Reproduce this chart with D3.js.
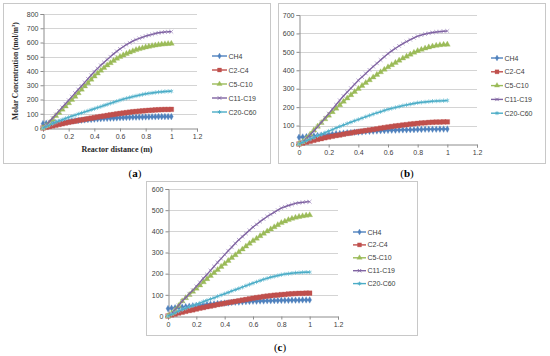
<!DOCTYPE html>
<html><head><meta charset="utf-8">
<script src="https://cdn.jsdelivr.net/npm/d3@7"></script>
<style>body{margin:0;background:#fff}svg{display:block}</style>
</head><body>
<svg id="chart" width="550" height="356"></svg>
<script>
// ---------- DATA ----------
const distance = [0,0.025,0.05,0.075,0.1,0.125,0.15,0.175,0.2,0.225,0.25,0.275,0.3,0.325,0.35,0.375,0.4,0.425,0.45,0.475,0.5,0.525,0.55,0.575,0.6,0.625,0.65,0.675,0.7,0.725,0.75,0.775,0.8,0.825,0.85,0.875,0.9,0.925,0.95,0.975,1];
const seriesNames = ["CH4","C2-C4","C5-C10","C11-C19","C20-C60"];
const xTickValues = [0,0.2,0.4,0.6,0.8,1,1.2];
const yTicksA = [0,100,200,300,400,500,600,700,800];
const yTicksB = [0,100,200,300,400,500,600,700];
const yTicksC = [0,100,200,300,400,500,600];
const panelLabels = ["a","b","c"];

// panel (a)
const aCH4   = [30,32,34,36,38,40,43,45,47,49,51,53,55,57,59,60,62,64,65,67,68,69,70,71,72,73,74,75,76,76,77,77,78,78,79,79,80,80,80,80,80];
const aC2C4  = [0,5,10,15,20,25,30,35,40,44,48,53,57,61,65,69,73,77,81,84,88,92,95,99,102,105,108,111,114,116,118,120,122,124,125,127,128,129,130,130,131];
const aC5C10 = [0,15,35,60,85,107,130,152,175,198,220,245,270,293,316,340,362,383,403,422,440,456,472,487,500,511,521,531,540,548,555,561,567,572,576,580,584,587,589,591,592];
const aC11C19= [0,20,45,70,95,120,145,170,195,220,245,270,295,320,345,370,395,417,440,460,480,500,520,538,555,570,585,598,610,620,629,637,645,651,657,663,668,671,674,675,676];
const aC20C60= [0,10,20,30,40,49,58,67,75,83,90,98,105,113,120,128,135,143,150,158,165,173,180,188,195,202,208,214,220,225,230,235,240,243,246,249,252,254,256,257,258];

// panel (b)
const bCH4   = [36,38,40,42,44,46,48,50,52,54,56,57,59,61,62,64,65,66,68,69,70,71,72,73,74,75,75,76,77,77,78,78,79,79,80,80,80,80,81,81,81];
const bC2C4  = [0,5,10,15,20,25,29,34,38,42,46,49,53,57,60,64,67,70,73,76,79,82,86,89,92,95,98,100,103,105,108,110,112,114,115,117,118,119,119,120,120];
const bC5C10 = [0,12,30,52,75,95,115,135,155,174,193,212,230,248,266,283,300,316,332,347,362,376,390,404,417,429,441,453,465,475,486,496,505,512,519,525,530,534,537,539,540];
const bC11C19= [0,12,30,50,70,93,117,141,165,189,213,237,260,282,303,324,345,364,383,402,420,438,456,473,490,505,519,532,545,556,566,576,585,591,597,601,605,608,610,612,613];
const bC20C60= [0,9,18,26,35,44,53,61,70,78,87,95,103,111,118,126,133,140,148,155,162,169,175,182,188,193,198,203,208,212,216,220,224,226,228,230,232,233,234,235,236];

// panel (c)
const cCH4   = [35,37,39,40,42,44,46,48,50,52,53,55,56,57,59,60,61,62,64,65,66,67,68,69,70,70,71,71,72,72,73,73,74,74,74,75,75,75,76,76,76];
const cC2C4  = [0,5,9,14,18,22,26,29,33,37,40,44,47,50,54,57,60,63,66,69,72,75,78,81,84,87,89,92,94,96,98,99,101,102,104,105,106,107,107,108,108];
const cC5C10 = [0,12,28,48,70,85,100,115,130,145,160,175,190,204,218,233,247,261,275,288,302,315,329,342,355,366,378,389,400,410,420,430,440,447,454,460,465,469,472,475,477];
const cC11C19= [0,12,30,50,70,87,105,122,140,159,178,196,215,234,253,271,290,308,325,343,360,375,390,405,420,433,446,458,470,480,490,500,510,516,522,527,532,535,537,539,540];
const cC20C60= [0,8,15,23,30,36,43,49,55,61,68,74,80,86,93,99,105,111,118,124,130,136,143,149,155,161,167,173,178,183,187,191,195,198,200,202,204,205,206,207,207];

// ---------- STYLE / LAYOUT ----------
const colors = ["#4F81BD","#C0504D","#9BBB59","#8064A2","#4BACC6"];
const markerColors = ["#4F81BD","#C0504D","#9BBB59","#B3A2CC","#78C4D8"];
const symbols = [d3.symbolDiamond, d3.symbolSquare, d3.symbolTriangle, d3.symbolX, d3.symbolAsterisk];
const symSizes = [13, 22, 15, 11, 13];
const legendSizes = [10, 16, 12, 9, 10];
const filled = [true,true,true,false,false];

const panels = [
  {box:[3,3,270,163], x:[43,197], y:[128,14], ticks:yTicksA, ymax:800,
   series:[aCH4,aC2C4,aC5C10,aC11C19,aC20C60], legend:{x:212, y:56, dy:14, len:15},
   label:[135,177], titles:true},
  {box:[278,3,545,163], x:[299,477], y:[144,15], ticks:yTicksB, ymax:700,
   series:[bCH4,bC2C4,bC5C10,bC11C19,bC20C60], legend:{x:491, y:58, dy:13.8, len:12},
   label:[407,177], titles:false},
  {box:[146,181,417,335], x:[168,338], y:[316,189], ticks:yTicksC, ymax:600,
   series:[cCH4,cC2C4,cC5C10,cC11C19,cC20C60], legend:{x:353, y:232, dy:12.9, len:13},
   label:[280,351], titles:false}
];

const svg = d3.select("#chart");
svg.append("rect").attr("width",550).attr("height",356).attr("fill","#fff");

panels.forEach((p, pi) => {
  const g = svg.append("g");
  const [bx0,by0,bx1,by1] = p.box;
  g.append("rect").attr("x",bx0+0.5).attr("y",by0+0.5).attr("width",bx1-bx0).attr("height",by1-by0)
    .attr("fill","#fff").attr("stroke","#c8c8c8").attr("stroke-width",1);

  const x = d3.scaleLinear().domain([0,1.2]).range(p.x);
  const y = d3.scaleLinear().domain([0,p.ymax]).range(p.y);

  // gridlines
  g.append("g").selectAll("line").data(p.ticks.filter(t=>t>0)).join("line")
    .attr("x1",p.x[0]).attr("x2",p.x[1])
    .attr("y1",d=>Math.round(y(d))+0.5).attr("y2",d=>Math.round(y(d))+0.5)
    .attr("stroke","#d4d4d4").attr("stroke-width",1);

  // y axis
  const ya = g.append("g").attr("transform",`translate(${p.x[0]+0.5},0)`)
    .call(d3.axisLeft(y).tickValues(p.ticks).tickSize(3).tickFormat(d3.format("d")));
  // x axis
  const xa = g.append("g").attr("transform",`translate(0,${Math.round(p.y[0])+0.5})`)
    .call(d3.axisBottom(x).tickValues(xTickValues).tickSize(3).tickFormat(d=>String(+d.toFixed(1))));
  [ya,xa].forEach(a=>{
    a.select(".domain").attr("stroke","#8c8c8c");
    a.selectAll(".tick line").attr("stroke","#8c8c8c");
    a.selectAll(".tick text").attr("font-family","Liberation Sans, Arial, sans-serif")
      .attr("font-size","7px").attr("fill","#404040");
  });
  ya.selectAll(".tick text").attr("x",-5);
  xa.selectAll(".tick text").attr("y",6);

  // series
  p.series.forEach((vals, si) => {
    const pts = distance.map((d,i)=>[d, vals[i]]);
    const sym = d3.symbol().type(symbols[si]).size(symSizes[si]);
    g.append("g").selectAll("path").data(pts).join("path")
      .attr("transform", d=>`translate(${x(d[0])},${y(d[1])})`)
      .attr("d", sym)
      .attr("fill", filled[si] ? markerColors[si] : "none")
      .attr("stroke", markerColors[si]).attr("stroke-width", filled[si] ? 0.3 : 0.9);
    g.append("path").datum(pts)
      .attr("fill","none").attr("stroke",colors[si]).attr("stroke-width",1.4)
      .attr("d", d3.line().x(d=>x(d[0])).y(d=>y(d[1])).curve(d3.curveMonotoneX));
  });

  // legend
  const L = p.legend;
  seriesNames.forEach((name, si) => {
    const ly = L.y + si*L.dy;
    g.append("line").attr("x1",L.x).attr("x2",L.x+L.len).attr("y1",ly).attr("y2",ly)
      .attr("stroke",colors[si]).attr("stroke-width",1.4);
    g.append("path").attr("transform",`translate(${L.x+L.len/2},${ly})`)
      .attr("d", d3.symbol().type(symbols[si]).size(legendSizes[si])())
      .attr("fill", filled[si] ? colors[si] : "none")
      .attr("stroke", colors[si]).attr("stroke-width", filled[si] ? 0.3 : 0.9);
    g.append("text").attr("x",L.x+L.len+1.5).attr("y",ly+2.5)
      .attr("font-family","Liberation Sans, Arial, sans-serif").attr("font-size","7px")
      .attr("fill","#404040").text(name);
  });

  // titles
  if (p.titles) {
    g.append("text").attr("x",(p.x[0]+x(1.2))/2 - 3).attr("y",152)
      .attr("text-anchor","middle").attr("font-family","Liberation Serif, Times New Roman, serif")
      .attr("font-weight","bold").attr("font-size","8px").attr("fill","#262626")
      .text("Reactor distance (m)");
    const yt = g.append("text").attr("transform",`translate(18,${(p.y[0]+p.y[1])/2}) rotate(-90)`)
      .attr("text-anchor","middle").attr("font-family","Liberation Serif, Times New Roman, serif")
      .attr("font-weight","bold").attr("font-size","7.5px").attr("fill","#262626");
    yt.append("tspan").text("Molar Concentration (mol/m");
    yt.append("tspan").attr("font-size","5px").attr("dy","-3").text("3");
    yt.append("tspan").attr("dy","3").text(")");
  }

  // panel label
  const lt = svg.append("text").attr("x",p.label[0]).attr("y",p.label[1])
    .attr("text-anchor","middle").attr("font-family","Liberation Serif, Times New Roman, serif")
    .attr("font-size","11px").attr("fill","#000");
  lt.append("tspan").text("(");
  lt.append("tspan").attr("font-weight","bold").text(panelLabels[pi]);
  lt.append("tspan").text(")");
});
</script>
</body></html>
